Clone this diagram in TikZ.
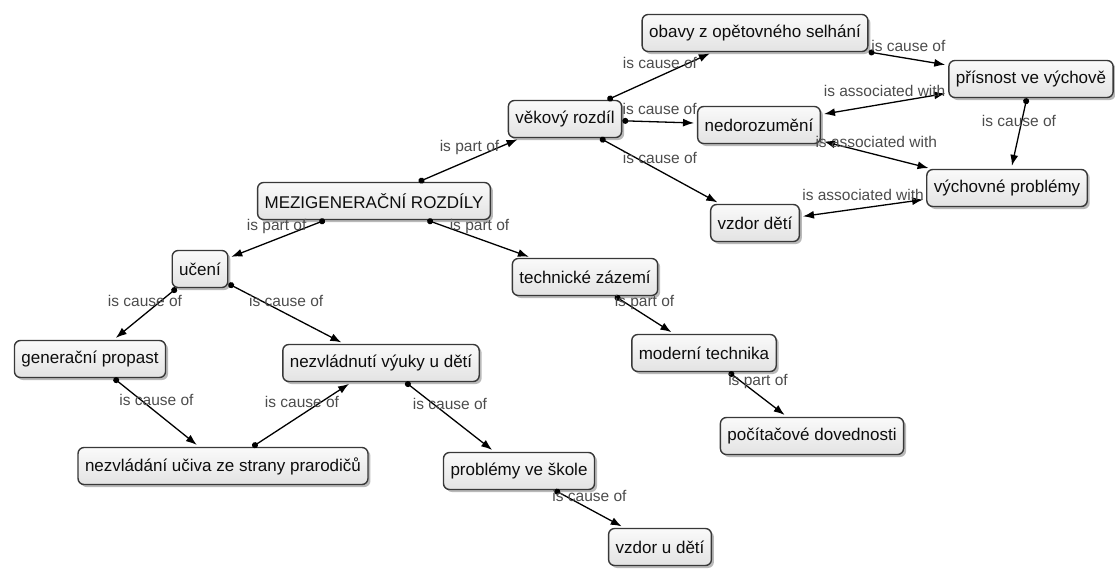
\documentclass[tikz,border=0pt]{standalone}
\usepackage{fontspec}
\setmainfont{Liberation Sans}
\usetikzlibrary{arrows.meta,shadows}

\begin{document}
\begin{tikzpicture}[x=1pt,y=-1pt]
      \tikzstyle{concept} = [rectangle, rounded corners=6pt, draw=black!78, line width=1.4pt,
        top color=black!2, bottom color=black!11, minimum height=37pt, inner xsep=7pt,
        font=\fontsize{17}{19}\selectfont, text=black!95,
        drop shadow={shadow xshift=2.5pt, shadow yshift=-2.5pt, opacity=0.55}]
      \tikzstyle{link} = [line width=1.3pt, {Circle[length=6pt]}-{Latex[length=11pt,width=8pt]}, shorten >=3pt]
      \tikzstyle{assoc} = [line width=1.3pt, {Latex[length=11pt,width=8pt]}-{Latex[length=11pt,width=8pt]}, shorten >=3pt, shorten <=3pt]
      \tikzstyle{lbl} = [midway, yshift=13pt, font=\fontsize{15.5}{17}\selectfont, text=black!70]
      \useasboundingbox (0,0) rectangle (1115,568);
      % concepts, top part
      \node (obavy) [concept] at (755,33) {obavy z opětovného selhání};
      \node (prisnost) [concept] at (1031,79) {přísnost ve výchově};
      \node (vek) [concept] at (565,119) {věkový rozdíl};
      \node (nedoroz) [concept] at (759,125) {nedorozumění};
      \node (vychov) [concept] at (1007,188) {výchovné problémy};
      \node (vzdor) [concept] at (755,223) {vzdor dětí};
      % concepts, middle
      \node (mezi) [concept] at (374,201) {MEZIGENERAČNÍ ROZDÍLY};
      \node (uceni) [concept] at (200,269) {učení};
      \node (tech) [concept] at (585,277) {technické zázemí};
      \node (propast) [concept] at (90,359) {generační propast};
      \node (nezvl) [concept] at (381,363) {nezvládnutí výuky u dětí};
      \node (modern) [concept] at (704,353) {moderní technika};
      % concepts, bottom
      \node (pc) [concept] at (812,436) {počítačové dovednosti};
      \node (prarod) [concept] at (223,466) {nezvládání učiva ze strany prarodičů};
      \node (skola) [concept] at (519,471) {problémy ve škole};
      \node (vzdoru) [concept] at (660,547) {vzdor u dětí};
      % links
      \draw [link] (mezi) -- node[lbl]{is part of} (vek);
      \draw [link] (vek) -- node[lbl]{is cause of} (obavy);
      \draw [link] (vek) -- node[lbl]{is cause of} (nedoroz);
      \draw [link] (vek) -- node[lbl]{is cause of} (vzdor);
      \draw [link] (obavy) -- node[lbl]{is cause of} (prisnost);
      \draw [assoc] (prisnost) -- node[lbl]{is associated with} (nedoroz);
      \draw [assoc] (nedoroz) -- node[lbl]{is associated with} (vychov);
      \draw [link] (prisnost) -- node[lbl]{is cause of} (vychov);
      \draw [assoc] (vychov) -- node[lbl]{is associated with} (vzdor);
      \draw [link] (mezi) -- node[lbl]{is part of} (uceni);
      \draw [link] (mezi) -- node[lbl]{is part of} (tech);
      \draw [link] (uceni) -- node[lbl]{is cause of} (propast);
      \draw [link] (uceni) -- node[lbl]{is cause of} (nezvl);
      \draw [link] (tech) -- node[lbl]{is part of} (modern);
      \draw [link] (modern) -- node[lbl]{is part of} (pc);
      \draw [link] (propast) -- node[lbl]{is cause of} (prarod);
      \draw [link] (prarod) -- node[lbl]{is cause of} (nezvl);
      \draw [link] (nezvl) -- node[lbl]{is cause of} (skola);
      \draw [link] (skola) -- node[lbl]{is cause of} (vzdoru);
\end{tikzpicture}
\end{document}
